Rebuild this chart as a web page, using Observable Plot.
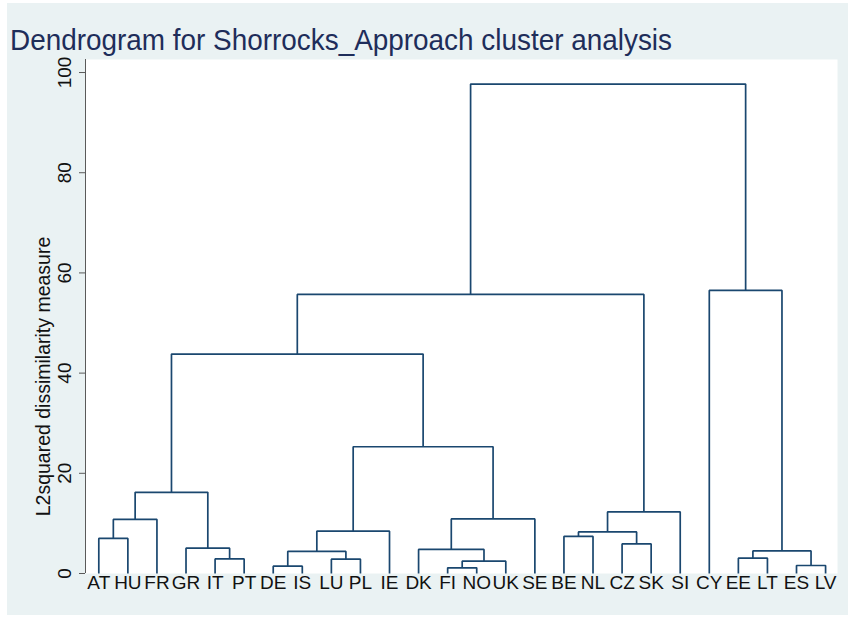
<!DOCTYPE html>
<html>
<head>
<meta charset="utf-8">
<script src="https://cdn.jsdelivr.net/npm/d3@7"></script>
<script src="https://cdn.jsdelivr.net/npm/@observablehq/plot@0.6"></script>
<style>
  body { margin: 0; background: #ffffff; }
  #wrap { position: relative; width: 850px; height: 618px; overflow: hidden; background: #ffffff; font-family: "Liberation Sans", Arial, sans-serif; }
  #bg { position: absolute; left: 7px; top: 3px; width: 841px; height: 612px; background: #eaf2f3; }
  #title { position: absolute; left: 0; top: 0; }
  #chart { position: absolute; left: 0; top: 56px; }
</style>
</head>
<body>
<div id="wrap">
  <div id="bg"></div>
  <svg id="title" width="850" height="56">
    <text x="10" y="50" font-family="Liberation Sans, Arial, sans-serif" font-size="30" fill="#1e2d5a" textLength="662" lengthAdjust="spacingAndGlyphs">Dendrogram for Shorrocks_Approach cluster analysis</text>
  </svg>
  <div id="chart"></div>
</div>
<script>
// Leaf order (left to right)
const leaves = ["AT","HU","FR","GR","IT","PT","DE","IS","LU","PL","IE","DK","FI","NO","UK","SE","BE","NL","CZ","SK","SI","CY","EE","LT","ES","LV"];

// Merges: pairs of children (leaf names or "m<index>" for an earlier merge)
const mergePairs = [
  ["AT","HU"],   // m0
  ["m0","FR"],   // m1
  ["IT","PT"],   // m2
  ["GR","m2"],   // m3
  ["m1","m3"],   // m4
  ["DE","IS"],   // m5
  ["LU","PL"],   // m6
  ["m5","m6"],   // m7
  ["m7","IE"],   // m8
  ["FI","NO"],   // m9
  ["m9","UK"],   // m10
  ["DK","m10"],  // m11
  ["m11","SE"],  // m12
  ["m8","m12"],  // m13
  ["m4","m13"],  // m14
  ["BE","NL"],   // m15
  ["CZ","SK"],   // m16
  ["m15","m16"], // m17
  ["m17","SI"],  // m18
  ["m14","m18"], // m19
  ["EE","LT"],   // m20
  ["ES","LV"],   // m21
  ["m20","m21"], // m22
  ["CY","m22"],  // m23
  ["m19","m23"]  // m24
];
// Dissimilarity at which each merge happens
const mergeHeights = [7.0, 10.8, 2.9, 5.05, 16.2, 1.46, 2.85, 4.4, 8.45, 1.13, 2.46, 4.8, 10.9, 25.3, 43.8, 7.4, 5.9, 8.3, 12.3, 55.7, 3.06, 1.6, 4.5, 56.5, 97.7];

const yTicks = [0, 20, 40, 60, 80, 100];
const yLabel = "L2squared dissimilarity measure";

// Build segments
const nodes = new Map(leaves.map((d, i) => [d, {x: i + 1, h: 0}]));
const segs = [];
mergePairs.forEach(([a, b], k) => {
  const A = nodes.get(a), B = nodes.get(b), h = mergeHeights[k];
  segs.push({x: A.x, y: A.h, k}, {x: A.x, y: h, k}, {x: B.x, y: h, k}, {x: B.x, y: B.h, k});
  nodes.set("m" + k, {x: (A.x + B.x) / 2, h});
});

const xDomain = [0.5425, 26.41];
const lineColor = "#1a476f";

const chart = Plot.plot({
  width: 850,
  height: 560,
  marginTop: 3,
  marginBottom: 43,
  marginLeft: 85,
  marginRight: 13,
  style: {background: "transparent", color: "#000", fontFamily: "Liberation Sans, Arial, sans-serif"},
  x: {domain: xDomain},
  y: {domain: [0, 102.6]},
  marks: [
    Plot.frame({fill: "white", stroke: "none"}),
    Plot.ruleX([xDomain[0]], {stroke: "#5a5a5a", strokeWidth: 1}),
    Plot.axisX({ticks: leaves.map((d, i) => i + 1), tickFormat: (d) => leaves[d - 1], tickSize: 0, tickPadding: 2, fontSize: 19, label: null, fill: "#111"}),
    Plot.axisY({ticks: yTicks, tickSize: 6, tickPadding: 9, tickRotate: -90, fontSize: 19, label: null, stroke: "#5a5a5a", fill: "#111"}),
    Plot.text([yLabel], {text: (d) => d, frameAnchor: "left", textAnchor: "middle", rotate: -90, dx: -42, dy: 60, fontSize: 19.5, fill: "#111"}),
    Plot.line(segs, {x: "x", y: "y", z: "k", stroke: lineColor, strokeWidth: 1.7, strokeLinejoin: "miter", strokeLinecap: "butt"})
  ]
});
document.getElementById("chart").appendChild(chart);
</script>
</body>
</html>
